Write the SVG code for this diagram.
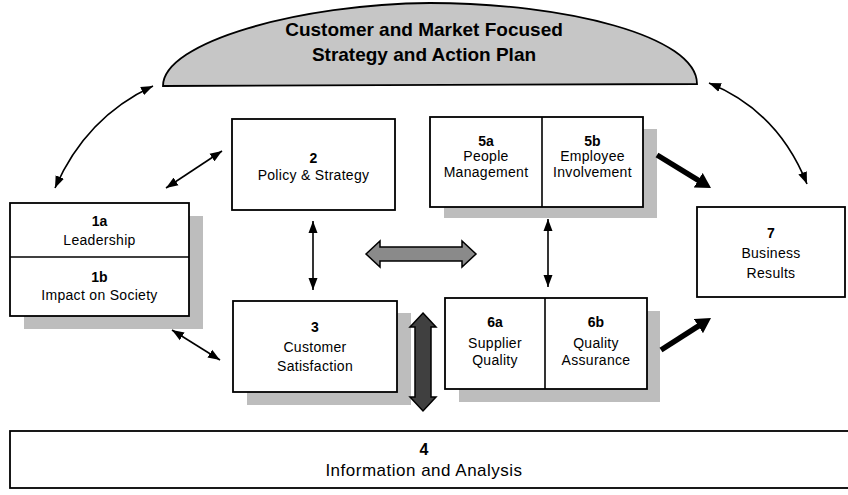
<svg xmlns="http://www.w3.org/2000/svg" width="848" height="495" viewBox="0 0 848 495">
  <style>
    .box { fill: #ffffff; stroke: #000000; stroke-width: 1.8; }
    .div { stroke: #000000; stroke-width: 1.6; }
    .shadow { fill: #bdbdbd; }
    .num { font-family: "Liberation Sans", Arial, sans-serif; font-size: 14px; font-weight: bold; text-anchor: middle; fill: #000; }
    .lbl { font-family: "Liberation Sans", Arial, sans-serif; font-size: 14px; text-anchor: middle; fill: #000; letter-spacing: 0.3px; }
    .big { font-size: 17px; letter-spacing: 0.5px; }
    .bignum { font-size: 16px; }
    .title { font-family: "Liberation Sans", Arial, sans-serif; font-size: 19px; font-weight: bold; text-anchor: middle; fill: #000; }
    .thin { fill: none; stroke: #000; stroke-width: 1.6; marker-start: url(#head); marker-end: url(#head); }
    .thick { fill: none; stroke: #000; stroke-width: 5.5; marker-end: url(#bighead); }
  </style>
  <defs>
    <marker id="head" viewBox="0 0 12 10" refX="12" refY="5" markerWidth="12" markerHeight="10" markerUnits="userSpaceOnUse" orient="auto-start-reverse">
      <path d="M0,0.5 L12,5 L0,9.5 Z" fill="#000"/>
    </marker>
    <marker id="bighead" viewBox="0 0 15 17" refX="5" refY="8.5" markerWidth="15" markerHeight="17" markerUnits="userSpaceOnUse" orient="auto">
      <path d="M0,0 L15,8.5 L0,17 Z" fill="#000"/>
    </marker>
  </defs>

  <!-- strategy dome -->
  <g id="strategy">
    <path d="M163,86 C163,42 300,4 430,3 C565,3 697,36 697,84 Z" fill="#c6c6c6" stroke="#000" stroke-width="1.8"/>
    <text class="title" x="424" y="36">Customer and Market Focused</text>
    <text class="title" x="424" y="61">Strategy and Action Plan</text>
  </g>

  <!-- 1a / 1b -->
  <g id="leadership">
    <rect class="shadow" x="24" y="216" width="179" height="113"/>
    <rect class="box" x="10" y="203" width="179" height="113"/>
    <line class="div" x1="10" y1="257" x2="189" y2="257"/>
    <text class="num" x="99.5" y="226">1a</text>
    <text class="lbl" x="99.5" y="245">Leadership</text>
    <text class="num" x="99.5" y="282">1b</text>
    <text class="lbl" x="99.5" y="300">Impact on Society</text>
  </g>

  <!-- 2 -->
  <g id="policy">
    <rect class="box" x="232" y="119" width="163" height="91"/>
    <text class="num" x="313.5" y="163">2</text>
    <text class="lbl" x="313.5" y="180">Policy &amp; Strategy</text>
  </g>

  <!-- 5a / 5b -->
  <g id="people">
    <rect class="shadow" x="444" y="129" width="213" height="89"/>
    <rect class="box" x="430" y="117" width="213" height="90"/>
    <line class="div" x1="542" y1="117" x2="542" y2="207"/>
    <text class="num" x="486" y="146">5a</text>
    <text class="lbl" x="486" y="161">People</text>
    <text class="lbl" x="486" y="177">Management</text>
    <text class="num" x="592.5" y="146">5b</text>
    <text class="lbl" x="592.5" y="161">Employee</text>
    <text class="lbl" x="592.5" y="177">Involvement</text>
  </g>

  <!-- 3 -->
  <g id="customer">
    <rect class="shadow" x="247" y="313" width="164" height="92"/>
    <rect class="box" x="233" y="301" width="164" height="91"/>
    <text class="num" x="315" y="332">3</text>
    <text class="lbl" x="315" y="352">Customer</text>
    <text class="lbl" x="315" y="371">Satisfaction</text>
  </g>

  <!-- 6a / 6b -->
  <g id="processes">
    <rect class="shadow" x="459" y="311" width="201" height="91"/>
    <rect class="box" x="445" y="298" width="202" height="91"/>
    <line class="div" x1="545" y1="298" x2="545" y2="389"/>
    <text class="num" x="495" y="327">6a</text>
    <text class="lbl" x="495" y="348">Supplier</text>
    <text class="lbl" x="495" y="365">Quality</text>
    <text class="num" x="596" y="327">6b</text>
    <text class="lbl" x="596" y="348">Quality</text>
    <text class="lbl" x="596" y="365">Assurance</text>
  </g>

  <!-- 7 -->
  <g id="results">
    <rect class="box" x="697" y="207" width="148" height="90"/>
    <text class="num" x="771" y="238">7</text>
    <text class="lbl" x="771" y="258">Business</text>
    <text class="lbl" x="771" y="278">Results</text>
  </g>

  <!-- 4 -->
  <g id="information">
    <rect class="box" x="10" y="431" width="845" height="57"/>
    <text class="num bignum" x="424" y="455">4</text>
    <text class="lbl big" x="424" y="476">Information and Analysis</text>
  </g>

  <!-- connectors -->
  <g id="connectors">
    <path class="thin" d="M55,188 Q86,117 153,86"/>
    <path class="thin" d="M709,83 Q778,111 807,184"/>
    <line class="thin" x1="166" y1="188" x2="222" y2="151"/>
    <line class="thin" x1="172" y1="330" x2="220" y2="360"/>
    <line class="thin" x1="313" y1="221" x2="313" y2="290"/>
    <line class="thin" x1="548" y1="219" x2="548" y2="287"/>
    <polygon points="366,254 380,241 380,247 462,247 462,241 476,254 462,267 462,261 380,261 380,267" fill="#8a8a8a" stroke="#000" stroke-width="1.5"/>
    <polygon points="423,313 436,327 431,327 431,397 436,397 423,411 410,397 415,397 415,327 410,327" fill="#404040" stroke="#000" stroke-width="1.5"/>
    <line class="thick" x1="657" y1="155" x2="702.5" y2="182.8"/>
    <line class="thick" x1="661" y1="350" x2="702.6" y2="323.4"/>
  </g>
</svg>
